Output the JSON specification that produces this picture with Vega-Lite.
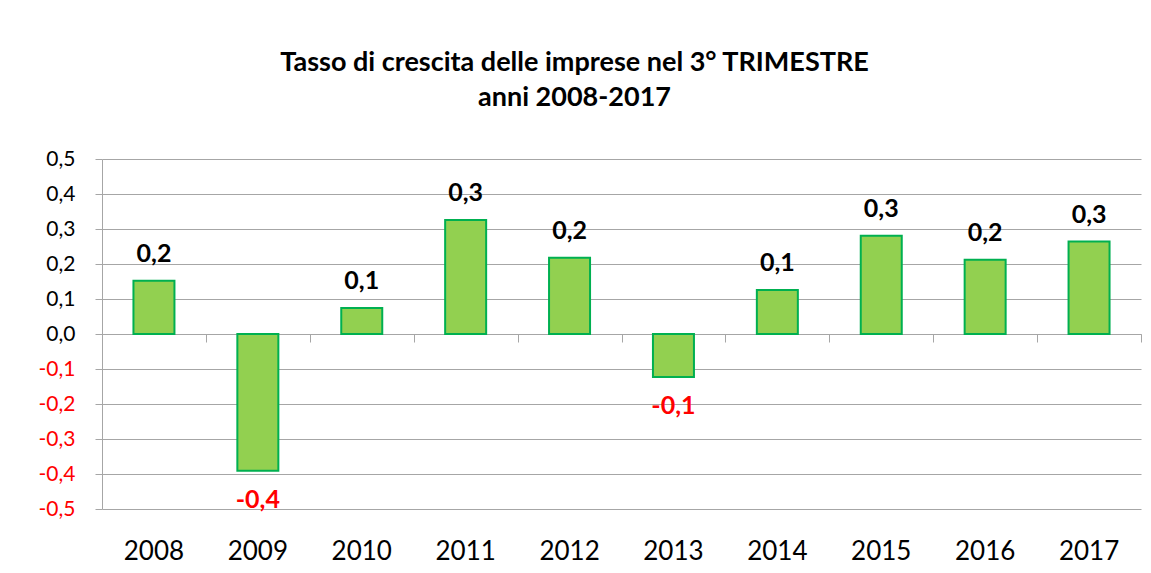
{
  "$schema": "https://vega.github.io/schema/vega-lite/v6.json",
  "autosize": "none",
  "width": 1039,
  "height": 350,
  "padding": {"left": 102, "top": 159, "right": 10, "bottom": 64},
  "background": "white",
  "title": {
    "text": ["Tasso di crescita delle imprese nel 3° TRIMESTRE", "anni 2008-2017"],
    "font": "Lato",
    "fontSize": 27,
    "fontWeight": "bold",
    "color": "#000000",
    "anchor": "middle",
    "frame": "group",
    "dx": -47,
    "offset": 36,
    "lineHeight": 35
  },
  "config": {"view": {"stroke": null}, "font": "Lato"},
  "data": {
    "values": [
      {"anno": "2008", "tasso": 0.152, "etichetta": "0,2"},
      {"anno": "2009", "tasso": -0.391, "etichetta": "-0,4"},
      {"anno": "2010", "tasso": 0.074, "etichetta": "0,1"},
      {"anno": "2011", "tasso": 0.326, "etichetta": "0,3"},
      {"anno": "2012", "tasso": 0.218, "etichetta": "0,2"},
      {"anno": "2013", "tasso": -0.123, "etichetta": "-0,1"},
      {"anno": "2014", "tasso": 0.126, "etichetta": "0,1"},
      {"anno": "2015", "tasso": 0.281, "etichetta": "0,3"},
      {"anno": "2016", "tasso": 0.212, "etichetta": "0,2"},
      {"anno": "2017", "tasso": 0.264, "etichetta": "0,3"}
    ]
  },
  "layer": [
    {
      "mark": {"type": "bar", "size": 41, "fill": "#92d050", "stroke": "#00b050", "strokeWidth": 2},
      "encoding": {
        "x": {
          "field": "anno", "type": "ordinal",
          "scale": {"paddingInner": 0, "paddingOuter": 0},
          "axis": {
            "orient": "bottom", "domain": false, "ticks": false, "grid": false,
            "labelAngle": 0, "labelFont": "Lato", "labelFontSize": 26,
            "labelColor": "#000000", "labelPadding": 29, "title": null
          }
        },
        "y": {
          "field": "tasso", "type": "quantitative",
          "scale": {"domain": [-0.5, 0.5], "nice": false},
          "axis": {
            "values": [-0.5, -0.4, -0.3, -0.2, -0.1, 0, 0.1, 0.2, 0.3, 0.4, 0.5],
            "tickCount": 20,
            "labelExpr": "replace(replace(format(datum.value, '.1f'), '.', ','), '\u2212', '-')",
            "labelOverlap": false,
            "title": null, "grid": true, "gridColor": "#a6a6a6",
            "domainColor": "#a6a6a6", "tickColor": "#a6a6a6", "tickSize": 7,
            "labelFont": "Lato", "labelFontSize": 21, "labelPadding": 20,
            "labelColor": {"condition": {"test": "datum.value < 0", "value": "#ff0000"}, "value": "#000000"}
          }
        }
      }
    },
    {
      "transform": [{"filter": "datum.tasso >= 0"}],
      "mark": {"type": "text", "baseline": "alphabetic", "dy": -19, "font": "Lato", "fontSize": 25, "fontWeight": "bold", "color": "#000000"},
      "encoding": {
        "x": {
          "field": "anno", "type": "ordinal",
          "axis": {
            "orient": "bottom", "offset": -175, "labels": false, "domain": true,
            "domainColor": "#a6a6a6", "ticks": true, "tickBand": "extent",
            "tickSize": 8, "tickColor": "#a6a6a6", "title": null, "grid": false
          }
        },
        "y": {"field": "tasso", "type": "quantitative"},
        "text": {"field": "etichetta"}
      }
    },
    {
      "transform": [{"filter": "datum.tasso < 0"}],
      "mark": {"type": "text", "baseline": "alphabetic", "dy": 37, "font": "Lato", "fontSize": 25, "fontWeight": "bold", "color": "#ff0000"},
      "encoding": {
        "x": {"field": "anno", "type": "ordinal", "axis": null},
        "y": {"field": "tasso", "type": "quantitative"},
        "text": {"field": "etichetta"}
      }
    }
  ],
  "resolve": {"axis": {"x": "independent"}}
}
